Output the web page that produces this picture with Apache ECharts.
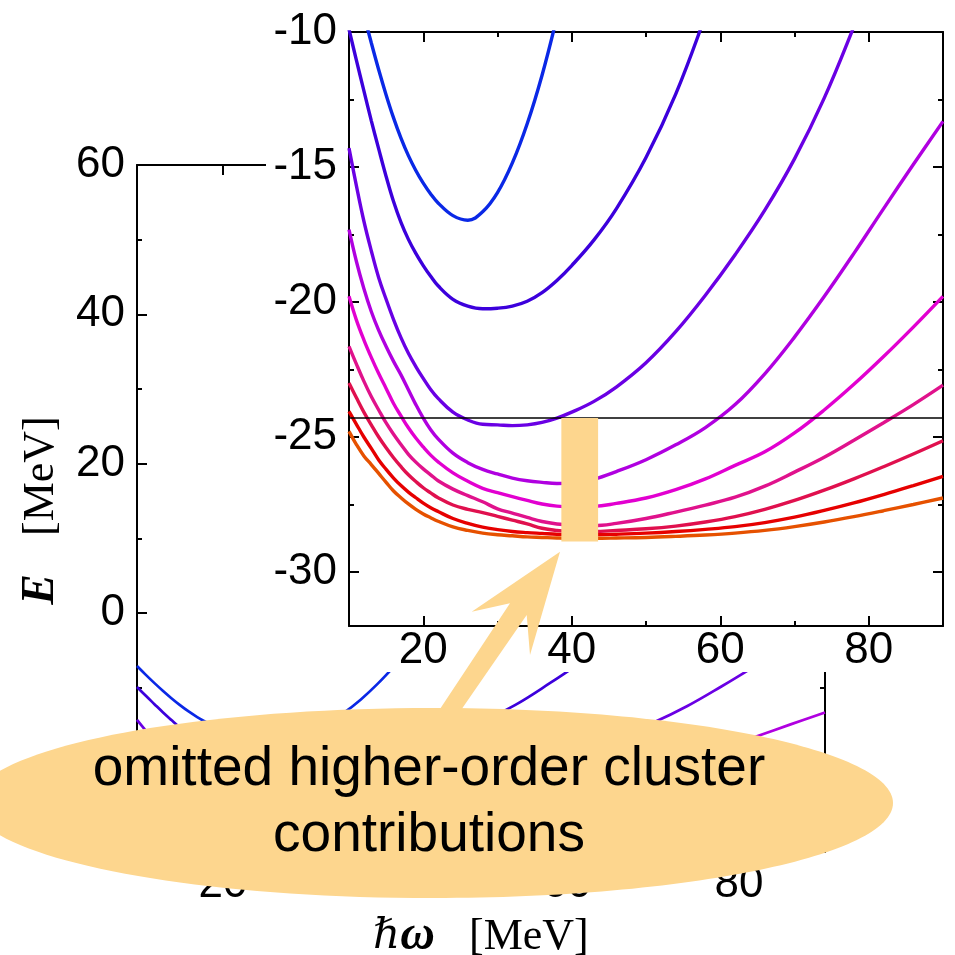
<!DOCTYPE html>
<html><head><meta charset="utf-8">
<script src="https://cdn.jsdelivr.net/npm/echarts@6/dist/echarts.min.js"></script>
<style>html,body{margin:0;padding:0;background:#fff}#c{width:955px;height:955px}</style>
</head><body><div id="c"></div>
<script>
// ---- data (hbar-omega in MeV, energies in MeV) ----
const hw = [10,11,12,13,14,15,16,17,18,19,20,21,22,24,26,28,30,32,34,36,38,40,43,46,50,54,58,62,66,70,74,78,82,86,90];
const curve1 = [-7.1,-8.25,-9.35,-10.4,-11.4,-12.33,-13.18,-13.93,-14.58,-15.13,-15.6,-16.0,-16.33,-16.8,-16.97,-16.66,-15.95,-14.85,-13.4,-11.6,-9.45,-7.0,null,null,null,null,null,null,null,null,null,null,null,null,null];
const curve2 = [-9.9,-11.05,-12.17,-13.28,-14.33,-15.35,-16.28,-17.05,-17.68,-18.2,-18.65,-19.05,-19.4,-19.9,-20.15,-20.25,-20.23,-20.15,-19.97,-19.65,-19.2,-18.65,-17.7,-16.55,-14.65,-12.3,-9.4,-6.3,null,null,null,null,null,null,null];
const curve3 = [-14.3,-15.7,-17.0,-18.1,-19.1,-19.9,-20.65,-21.32,-21.9,-22.39,-22.83,-23.24,-23.57,-24.08,-24.37,-24.53,-24.55,-24.58,-24.55,-24.46,-24.3,-24.08,-23.68,-23.15,-22.25,-21.1,-19.75,-18.25,-16.6,-14.7,-12.45,-9.8,-7.0,null,null];
const curve4 = [-17.32,-18.5,-19.5,-20.35,-21.05,-21.65,-22.2,-22.7,-23.25,-23.8,-24.3,-24.73,-25.07,-25.6,-25.95,-26.2,-26.37,-26.52,-26.62,-26.68,-26.72,-26.7,-26.56,-26.28,-25.84,-25.29,-24.65,-23.8,-22.66,-21.3,-19.8,-18.2,-16.54,-14.91,-13.31];
const curve5 = [-19.79,-20.67,-21.4,-22.05,-22.65,-23.2,-23.76,-24.22,-24.66,-25.04,-25.37,-25.67,-25.92,-26.33,-26.64,-26.9,-27.06,-27.21,-27.35,-27.48,-27.56,-27.58,-27.57,-27.46,-27.26,-26.95,-26.55,-26.05,-25.55,-24.85,-24.0,-23.05,-22.02,-20.93,-19.79];
const curve6 = [-21.64,-22.3,-22.93,-23.5,-24.0,-24.48,-24.9,-25.28,-25.64,-25.93,-26.18,-26.4,-26.62,-26.93,-27.17,-27.4,-27.66,-27.82,-27.98,-28.13,-28.22,-28.26,-28.28,-28.2,-28.02,-27.78,-27.52,-27.23,-26.82,-26.3,-25.75,-25.12,-24.47,-23.8,-23.08];
const curve7 = [-23.0,-23.55,-24.08,-24.55,-25.0,-25.4,-25.77,-26.1,-26.4,-26.65,-26.88,-27.07,-27.25,-27.52,-27.68,-27.8,-27.94,-28.08,-28.22,-28.38,-28.46,-28.5,-28.5,-28.46,-28.4,-28.3,-28.15,-27.95,-27.68,-27.35,-26.97,-26.55,-26.1,-25.63,-25.14];
const curve8 = [-24.05,-24.53,-25.0,-25.42,-25.85,-26.2,-26.52,-26.8,-27.04,-27.25,-27.45,-27.62,-27.76,-28.02,-28.2,-28.34,-28.43,-28.5,-28.54,-28.57,-28.6,-28.62,-28.62,-28.6,-28.56,-28.5,-28.42,-28.32,-28.17,-27.97,-27.72,-27.44,-27.13,-26.8,-26.46];
const curve9 = [-24.79,-25.28,-25.7,-26.02,-26.35,-26.68,-27.0,-27.25,-27.48,-27.68,-27.85,-27.99,-28.12,-28.33,-28.46,-28.56,-28.62,-28.66,-28.7,-28.72,-28.74,-28.75,-28.75,-28.74,-28.72,-28.68,-28.63,-28.56,-28.46,-28.32,-28.15,-27.95,-27.73,-27.5,-27.26];
const curveColors = ['#0a28e6','#3c00dc','#6a00e4','#b000e0','#e200d0','#e0128c','#e0104e','#e60000','#e65100'];

const mainXMajor = [20,40,60,80], mainXMinor = [30,50,70], mainXLabels = [20,40,60,80];
const mainYMajor = [-20,0,20,40,60], mainYMinor = [-30,-10,10,30,50], mainYLabels = [0,20,40,60];
const insetXMajor = [20,40,60,80], insetXMinor = [30,50,70], insetXLabels = [20,40,60,80];
const insetYMajor = [-30,-25,-20,-15,-10], insetYMinor = [-27.5,-22.5,-17.5,-12.5], insetYLabels = [-30,-25,-20,-15,-10];

const threshold = -24.3;
const bandX = [38.6, 43.55];
const bandE = [-24.3, -28.87];
const noteLines = ['omitted higher-order cluster', 'contributions'];

const FONT = "'Liberation Sans', Arial, Helvetica, sans-serif";
const SERIF = "'Liberation Serif', 'Times New Roman', serif";
const PALE = '#fdd68e';

function axisSet(dim, grid, min, max, major, minor, labels, labelOpt, z) {
  const pos = dim === 'x' ? ['bottom', 'top'] : ['left', 'right'];
  const out = [];
  pos.forEach((p, k) => {
    [major, minor].forEach((vals, m) => {
      out.push({
        type: 'value', gridIndex: grid, position: p, min: min, max: max, z: z,
        axisLine: { show: m === 0, onZero: false, lineStyle: { color: '#000', width: 2 } },
        axisTick: { show: true, inside: true, length: m === 0 ? 10 : 5, customValues: vals, lineStyle: { color: '#000', width: 2 } },
        axisLabel: (k === 0 && m === 0) ? Object.assign({ show: true, customValues: labels, color: '#000', fontFamily: FONT, fontSize: 44 }, labelOpt) : { show: false },
        splitLine: { show: false }, minorTick: { show: false }, minorSplitLine: { show: false }
      });
    });
  });
  return out;
}

const mainX = axisSet('x', 0, 10, 90, mainXMajor, mainXMinor, mainXLabels, { margin: 11 }, 1);
const mainY = axisSet('y', 0, -32, 60, mainYMajor, mainYMinor, mainYLabels, { margin: 12 }, 1);
const insetX = axisSet('x', 1, 10, 90, insetXMajor, insetXMinor, insetXLabels, { margin: 3 }, 10);
const insetY = axisSet('y', 1, -32, -10, insetYMajor, insetYMinor, insetYLabels, { margin: 12 }, 10);

Object.assign(mainX[0], {
  name: '{h|\u210F}{w|\u03C9}{s| }{u|[MeV]}', nameLocation: 'middle', nameGap: 61,
  nameTextStyle: { rich: {
    h: { fontFamily: "'DejaVu Serif', serif", fontStyle: 'italic', fontSize: 42, color: '#000' },
    w: { fontFamily: SERIF, fontStyle: 'italic', fontWeight: 'bold', fontSize: 48, color: '#000' },
    s: { width: 34, fontSize: 44 },
    u: { fontFamily: SERIF, fontSize: 44, color: '#000' } } }
});
Object.assign(mainY[0], {
  name: '{e|E}{s| }{u|[MeV]}', nameLocation: 'middle', nameRotate: 90, nameGap: 73,
  nameTextStyle: { padding: [0, 4, 0, 0], rich: {
    e: { fontFamily: SERIF, fontStyle: 'italic', fontWeight: 'bold', fontSize: 46, color: '#000' },
    s: { width: 38, fontSize: 44 },
    u: { fontFamily: SERIF, fontSize: 44, color: '#000' } } }
});

const curves = [curve1, curve2, curve3, curve4, curve5, curve6, curve7, curve8, curve9];
const series = [];
curves.forEach((c, i) => {
  const data = hw.map((x, j) => [x, c[j]]).filter(d => d[1] !== null);
  series.push({ type: 'line', xAxisIndex: 0, yAxisIndex: 0, data: data, symbol: 'none', smooth: 0.4,
    lineStyle: { color: curveColors[i], width: 2.7 }, z: 2, silent: true });
  series.push({ type: 'line', xAxisIndex: 4, yAxisIndex: 4, data: data, symbol: 'none', smooth: 0.4,
    lineStyle: { color: curveColors[i], width: 3.4 }, z: 10, silent: true });
});
series.push({ type: 'line', xAxisIndex: 4, yAxisIndex: 4, data: [[10, threshold], [90, threshold]], symbol: 'none',
  lineStyle: { color: '#000', width: 1.5 }, z: 11, silent: true });
series.push({ type: 'custom', xAxisIndex: 4, yAxisIndex: 4, z: 12, silent: true,
  data: [[bandX[0], bandX[1], bandE[0], bandE[1]]],
  renderItem: function (params, api) {
    const p1 = api.coord([api.value(0), api.value(2)]);
    const p2 = api.coord([api.value(1), api.value(3)]);
    return { type: 'rect', shape: { x: p1[0], y: p1[1], width: p2[0] - p1[0], height: p2[1] - p1[1] }, style: { fill: PALE } };
  } });

const chart = echarts.init(document.getElementById('c'), null, { renderer: 'canvas' });
chart.setOption({
  animation: false,
  backgroundColor: '#fff',
  grid: [
    { left: 137, top: 165, width: 688, height: 687, containLabel: false, outerBoundsMode: 'none' },
    { left: 349, top: 32, width: 594, height: 594, containLabel: false, outerBoundsMode: 'none' }
  ],
  xAxis: mainX.concat(insetX),
  yAxis: mainY.concat(insetY),
  series: series,
  graphic: [
    { type: 'rect', shape: { x: 266, y: 0, width: 689, height: 672 }, style: { fill: '#fff' }, z: 5, silent: true },
    { type: 'polygon', shape: { points: [[436.7, 714], [510, 603.3], [471.7, 611.7], [560, 551.7], [530, 655], [526.7, 615], [458.3, 714]] },
      style: { fill: PALE }, z: 20, silent: true },
    { type: 'ellipse', shape: { cx: 433, cy: 803, rx: 460, ry: 95 }, style: { fill: PALE }, z: 20, silent: true },
    { type: 'text', x: 429, y: 737, z: 21, silent: true,
      style: { text: noteLines.join('\n'), fontFamily: FONT, fontSize: 55, fill: '#000', align: 'center', verticalAlign: 'top', lineHeight: 66 } }
  ]
});
</script>
</body></html>
